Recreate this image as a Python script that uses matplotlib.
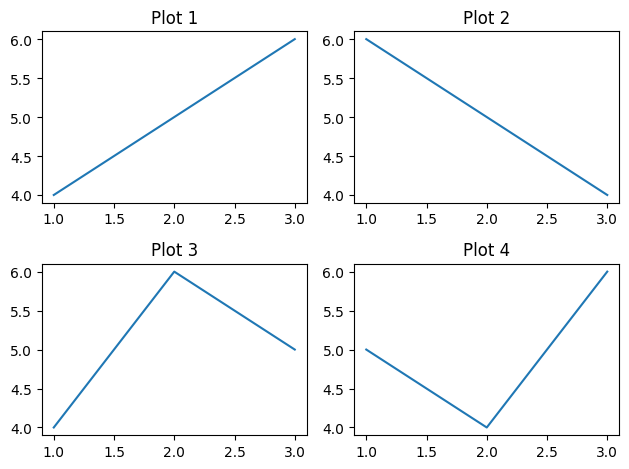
import matplotlib
matplotlib.use("Agg")
import matplotlib.pyplot as plt

x = [1, 2, 3]
y1 = [4, 5, 6]
y2 = [6, 5, 4]
y3 = [4, 6, 5]
y4 = [5, 4, 6]
titles = ["Plot 1", "Plot 2", "Plot 3", "Plot 4"]

fig, axes = plt.subplots(2, 2, figsize=(6.4, 4.8), dpi=100)
for ax, y, t in zip(axes.flat, [y1, y2, y3, y4], titles):
    ax.plot(x, y)
    ax.set_title(t)
fig.tight_layout()
fig.savefig("out.png", bbox_inches="tight")
